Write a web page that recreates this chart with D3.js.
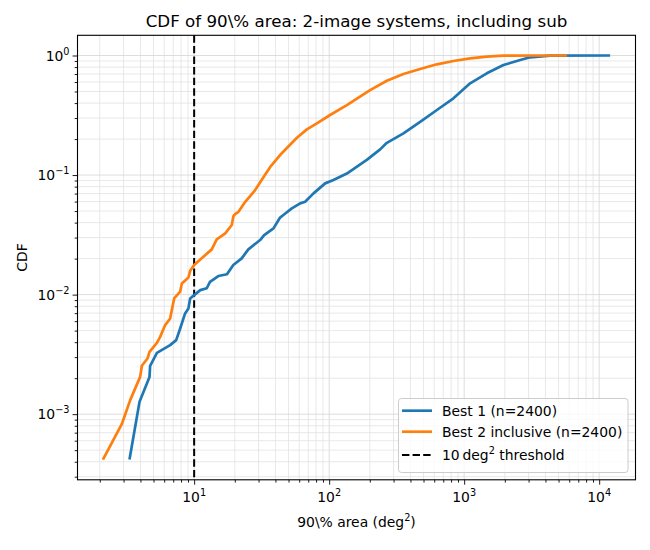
<!DOCTYPE html>
<html><head><meta charset="utf-8">
<script src="https://cdn.jsdelivr.net/npm/d3@7"></script>
<style>body{margin:0;background:#fff} text{font-family:"DejaVu Sans",sans-serif;fill:#000}</style>
</head><body><svg id="c" width="650" height="550"></svg>
<script>
// ---- data ----
const best1Area = [3.32,3.94,4.67,4.72,5.30,6.64,7.36,7.88,8.57,9.07,9.34,10.0,11.1,12.4,13.1,15.1,17.5,19.5,22.5,25.2,30.8,33.0,38.7,43.3,45.8,52.9,61.0,66.4,76.6,93.4,107.6,135.2,190,238.6,267.5,355,472,628,833,1107,1471,1954,2600,3083,4335,12050];
const best1Cdf  = [4.17e-4,1.27e-3,2.05e-3,2.54e-3,3.26e-3,3.78e-3,4.16e-3,5.21e-3,6.96e-3,7.67e-3,9.29e-3,9.9e-3,1.09e-2,1.13e-2,1.28e-2,1.43e-2,1.48e-2,1.77e-2,2.01e-2,2.39e-2,2.86e-2,3.15e-2,3.58e-2,4.41e-2,4.63e-2,5.26e-2,5.80e-2,5.98e-2,7.03e-2,8.52e-2,9.09e-2,0.103,0.134,0.164,0.186,0.223,0.279,0.350,0.438,0.585,0.710,0.833,0.917,0.966,0.997,1.0];
const best2Area = [2.11,2.91,3.36,3.98,4.10,4.51,4.67,5.30,5.60,6.10,6.64,7.11,7.88,8.11,9.07,9.34,10.0,11.7,13.5,14.7,17.0,19.0,19.5,20.1,21.3,23.9,28.3,32.6,36.6,43.3,57.7,68.4,81.1,101.6,135.2,201,267.5,355,472,628,833,1107,1471,1954,5770];
const best2Cdf  = [4.17e-4,8.24e-4,1.31e-3,2.05e-3,2.54e-3,2.92e-3,3.32e-3,3.95e-3,4.43e-3,5.56e-3,6.32e-3,9.29e-3,1.06e-2,1.24e-2,1.39e-2,1.58e-2,1.77e-2,2.07e-2,2.39e-2,2.90e-2,3.25e-2,3.82e-2,4.51e-2,4.72e-2,4.93e-2,5.98e-2,7.49e-2,9.57e-2,0.117,0.147,0.205,0.241,0.271,0.318,0.385,0.514,0.615,0.700,0.771,0.844,0.899,0.947,0.977,0.996,1.0];
const seriesNames = ["Best 1 (n=2400)", "Best 2 inclusive (n=2400)"];
const seriesColors = ["#1f77b4", "#ff7f0e"];
const threshold = 10;
const xMajorExp = [1, 2, 3, 4];
const yMajorExp = [-3, -2, -1, 0];
const titleText = "CDF of 90\\% area: 2-image systems, including sub";

// ---- layout ----
const L = 77.5, R = 635.5, T = 35.3, B = 479.8;
const svg = d3.select("#c");
const x = d3.scaleLog().domain([Math.pow(10, 0.136), Math.pow(10, 4.269)]).range([L, R]);
const y = d3.scaleLog().domain([Math.pow(10, -3.549), Math.pow(10, 0.169)]).range([B, T]);

const xAll = x.ticks().filter(v => v >= x.domain()[0] && v <= x.domain()[1]);
const yAll = y.ticks().filter(v => v >= y.domain()[0] && v <= y.domain()[1]);
const isMajor = v => Math.abs(Math.log10(v) - Math.round(Math.log10(v))) < 1e-9;

// grid
const g = svg.append("g");
g.selectAll(".gx").data(xAll).join("line")
  .attr("x1", d => x(d)).attr("x2", d => x(d)).attr("y1", T).attr("y2", B)
  .attr("stroke", d => isMajor(d) ? "#d4d4d4" : "#e2e2e2").attr("stroke-width", 0.8);
g.selectAll(".gy").data(yAll).join("line")
  .attr("y1", d => y(d)).attr("y2", d => y(d)).attr("x1", L).attr("x2", R)
  .attr("stroke", d => isMajor(d) ? "#d4d4d4" : "#e2e2e2").attr("stroke-width", 0.8);

// threshold line
svg.append("line").attr("x1", x(threshold)).attr("x2", x(threshold)).attr("y1", T).attr("y2", B)
  .attr("stroke", "#000").attr("stroke-width", 2).attr("stroke-dasharray", "7.4,3.2");

// curves
const line = d3.line().x(d => x(d[0])).y(d => y(d[1]));
const s1 = best1Area.map((a, i) => [a, best1Cdf[i]]);
const s2 = best2Area.map((a, i) => [a, best2Cdf[i]]);
[s1, s2].forEach((s, i) => {
  svg.append("path").datum(s).attr("d", line).attr("fill", "none")
    .attr("stroke", seriesColors[i]).attr("stroke-width", 2.7).attr("stroke-linejoin", "round");
});

// axes
const fs = 13.9;
const xAx = svg.append("g").attr("transform", `translate(0,${B})`);
xAx.call(d3.axisBottom(x).tickValues(xAll.filter(v => !isMajor(v))).tickSize(2.8).tickFormat(""));
const xAxM = svg.append("g").attr("transform", `translate(0,${B})`);
xAxM.call(d3.axisBottom(x).tickValues(xMajorExp.map(e => Math.pow(10, e))).tickSize(4.9).tickFormat(""));
const yAx = svg.append("g").attr("transform", `translate(${L},0)`);
yAx.call(d3.axisLeft(y).tickValues(yAll.filter(v => !isMajor(v))).tickSize(2.8).tickFormat(""));
const yAxM = svg.append("g").attr("transform", `translate(${L},0)`);
yAxM.call(d3.axisLeft(y).tickValues(yMajorExp.map(e => Math.pow(10, e))).tickSize(4.9).tickFormat(""));
svg.selectAll(".domain").remove();
svg.selectAll(".tick line").attr("stroke", "#000").attr("stroke-width", 0.9);

// tick labels with superscripts
function pow10Label(sel, e) {
  sel.append("tspan").text("10");
  sel.append("tspan").attr("dy", -6).attr("font-size", fs * 0.7).text(e < 0 ? "\u2212" + (-e) : String(e));
}
xMajorExp.forEach(e => {
  const t = svg.append("text").attr("x", x(Math.pow(10, e))).attr("y", B + 22).attr("font-size", fs).attr("text-anchor", "middle");
  pow10Label(t, e);
});
yMajorExp.forEach(e => {
  const t = svg.append("text").attr("x", L - 8).attr("y", y(Math.pow(10, e)) + 5).attr("font-size", fs).attr("text-anchor", "end");
  pow10Label(t, e);
});

// frame
svg.append("rect").attr("x", L).attr("y", T).attr("width", R - L).attr("height", B - T)
  .attr("fill", "none").attr("stroke", "#000").attr("stroke-width", 1.1);

// title & labels
svg.append("text").attr("x", (L + R) / 2).attr("y", 27).attr("text-anchor", "middle").attr("font-size", 16.7).text(titleText);
const xl = svg.append("text").attr("x", (L + R) / 2).attr("y", 527).attr("text-anchor", "middle").attr("font-size", fs);
xl.append("tspan").text("90\\% area (deg");
xl.append("tspan").attr("dy", -6).attr("font-size", fs * 0.7).text("2");
xl.append("tspan").attr("dy", 6).text(")");
svg.append("text").attr("transform", `translate(27,${(T + B) / 2}) rotate(-90)`).attr("text-anchor", "middle").attr("font-size", fs).text("CDF");

// legend
const lg = svg.append("g");
lg.append("rect").attr("x", 398.5).attr("y", 398.5).attr("width", 229.5).attr("height", 74).attr("rx", 3)
  .attr("fill", "#fff").attr("fill-opacity", 0.8).attr("stroke", "#cccccc").attr("stroke-width", 1);
const rows = [410.7, 431.7, 455];
seriesNames.forEach((n, i) => {
  lg.append("line").attr("x1", 402).attr("x2", 432).attr("y1", rows[i]).attr("y2", rows[i])
    .attr("stroke", seriesColors[i]).attr("stroke-width", 2.7);
  lg.append("text").attr("x", 442).attr("y", rows[i] + 5).attr("font-size", fs).text(n);
});
lg.append("line").attr("x1", 402).attr("x2", 432).attr("y1", rows[2]).attr("y2", rows[2])
  .attr("stroke", "#000").attr("stroke-width", 2).attr("stroke-dasharray", "7.4,3.2");
const lt = lg.append("text").attr("x", 442).attr("y", rows[2] + 5).attr("font-size", fs);
lt.append("tspan").text("10\u2009deg");
lt.append("tspan").attr("dy", -6).attr("font-size", fs * 0.7).text("2");
lt.append("tspan").attr("dy", 6).text(" threshold");
</script></body></html>
